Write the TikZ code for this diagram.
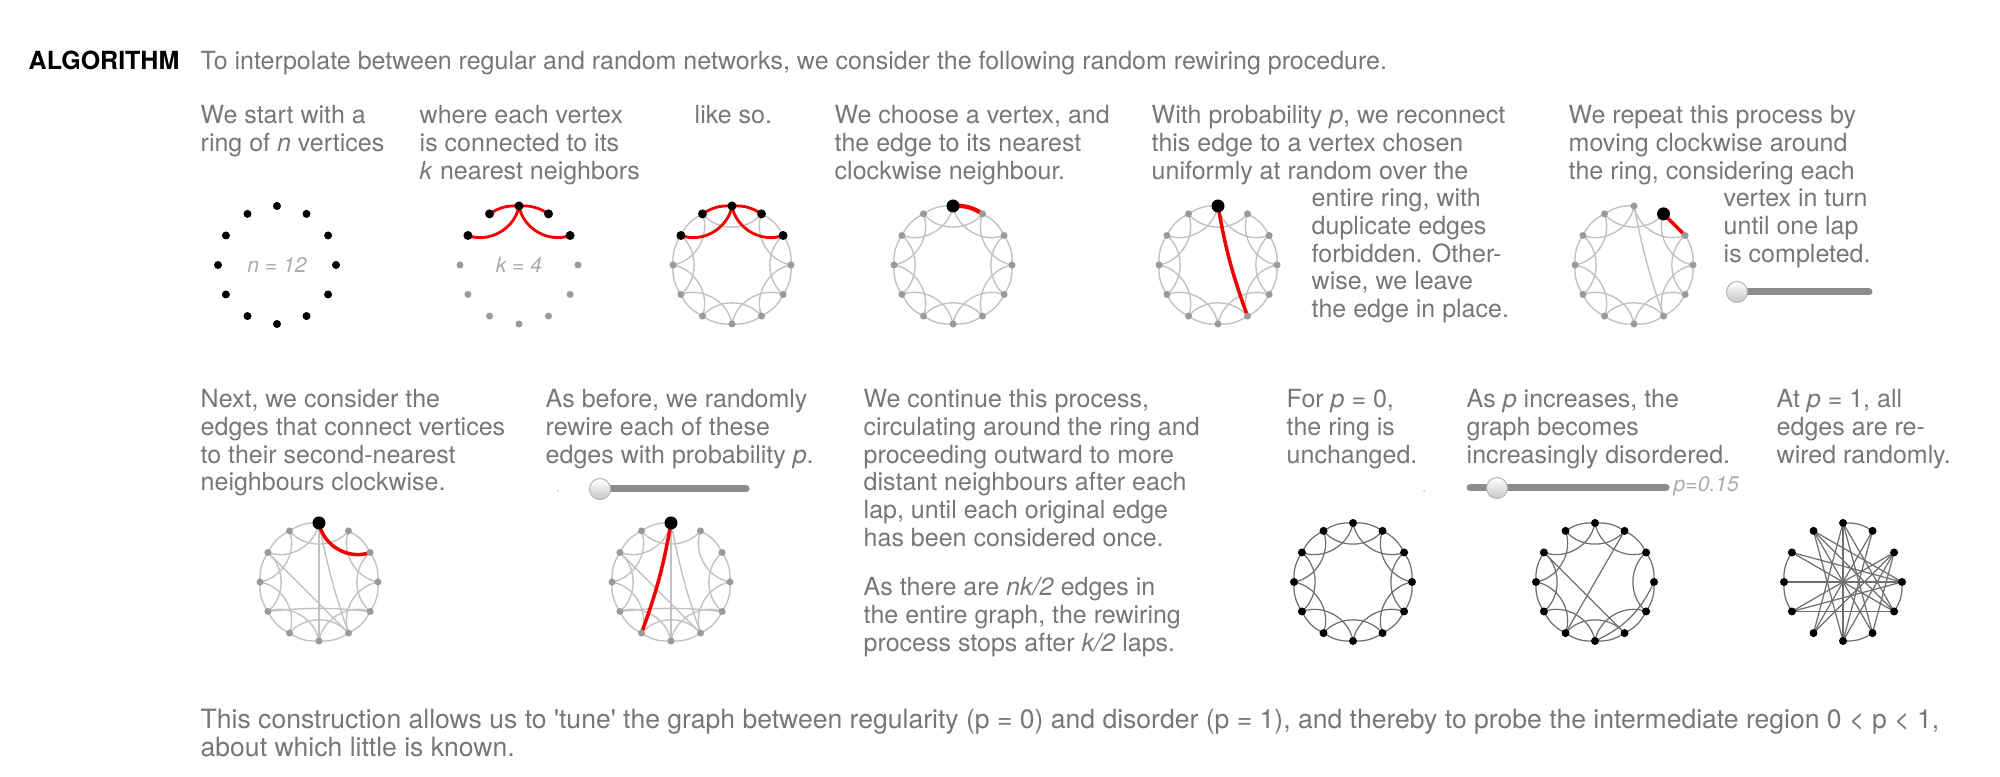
\documentclass[tikz,border=0pt]{standalone}
\usepackage{fontspec}
\setmainfont{TeX Gyre Heros}
\usetikzlibrary{calc}
\definecolor{txtgray}{HTML}{777777}
\definecolor{lblgray}{HTML}{ABABAB}
\definecolor{dotgray}{HTML}{9A9A9A}
\definecolor{edgegray}{HTML}{C2C2C2}
\definecolor{darkedge}{HTML}{6E6E6E}
\definecolor{wirered}{HTML}{F20000}
\tikzset{
	txt/.style={anchor=north west, inner sep=0pt, align=left, text=txtgray, font=\fontsize{7.11}{7.88}\selectfont},
	head/.style={txt, text=black, font=\fontsize{7.11}{7.88}\selectfont\bfseries},
	lbl/.style={inner sep=0pt, text=lblgray, font=\fontsize{6}{7}\selectfont\itshape},
	gedge/.style={draw=edgegray, line width=0.4pt},
	dkedge/.style={draw=darkedge, line width=0.35pt},
	redge/.style={draw=wirered, line width=1pt},
	track/.style={line width=2pt, line cap=round, draw=black!45},
	knob/.style={top color=white, bottom color=black!22, draw=black!28, line width=0.3pt},
}
\newcommand{\nearedges}[3]{\foreach \i in {#3}{\pgfmathtruncatemacro{\nxt}{mod(\i+1,12)}\draw[#2] (#1-\i) to[bend left=18] (#1-\nxt);}}
\newcommand{\faredges}[3]{\foreach \i in {#3}{\pgfmathtruncatemacro{\nxt}{mod(\i+2,12)}\draw[#2] (#1-\i) to[bend right=50] (#1-\nxt);}}
\newcommand{\ringdots}[4]{\foreach \i in {#4}{\fill[#2] (#1-\i) circle[radius=#3];}}
\begin{document}
\begin{tikzpicture}[x=0.01cm, y=0.01cm]
	\useasboundingbox (0,0) rectangle (2000,777);
	\foreach \g/\cx/\cy in {ring/277/512, knn/519/512, likeso/732/512, choose/953/512, rewire/1218/512, lap/1634/512, second/319/195, secondb/671/195, regular/1353/195, smallw/1595/195, random/1843/195}
		\foreach \i in {0,...,11}
			\coordinate (\g-\i) at ($(\cx,\cy)+(90-30*\i:59)$);

	\node[head] (algo) at (28,727.4) {\strut ALGORITHM};
	\node[txt] (intro) at (200,727.4) {\strut To interpolate between regular and random networks, we consider the following random rewiring procedure.};

	\node[txt] (tstart) at (200,673.4) {\strut We start with a\\ ring of \textit{n} vertices};
	\node[txt] (tknn) at (419,673.4) {\strut where each vertex\\ is connected to its\\ \textit{k} nearest neighbors};
	\node[txt] (tlikeso) at (694,673.4) {\strut like so.};
	\node[txt] (tchoose) at (834,673.4) {\strut We choose a vertex, and\\ the edge to its nearest\\ clockwise neighbour.};
	\node[txt] (tprob) at (1151,673.4) {\strut With probability \textit{p}, we reconnect\\ this edge to a vertex chosen\\ uniformly at random over the};
	\node[txt] (tprobb) at (1311,590.3) {\strut entire ring, with\\ duplicate edges\\ forbidden. Other-\\ wise, we leave\\ the edge in place.};
	\node[txt] (trepeat) at (1568,673.4) {\strut We repeat this process by\\ moving clockwise around\\ the ring, considering each};
	\node[txt] (trepeatb) at (1723,590.3) {\strut vertex in turn\\ until one lap\\ is completed.};

	\node[txt] (tnext) at (200,389.4) {\strut Next, we consider the\\ edges that connect vertices\\ to their second-nearest\\ neighbours clockwise.};
	\node[txt] (tbefore) at (545,389.4) {\strut As before, we randomly\\ rewire each of these\\ edges with probability \textit{p}.};
	\node[txt] (tcont) at (863,389.4) {\strut We continue this process,\\ circulating around the ring and\\ proceeding outward to more\\ distant neighbours after each\\ lap, until each original edge\\ has been considered once.};
	\node[txt] (tlaps) at (863,201.4) {\strut As there are \textit{nk/2} edges in\\ the entire graph, the rewiring\\ process stops after \textit{k/2} laps.};
	\node[txt] (tzero) at (1286,389.4) {\strut For \textit{p} = 0,\\ the ring is\\ unchanged.};
	\node[txt] (tmid) at (1466,389.4) {\strut As \textit{p} increases, the\\ graph becomes\\ increasingly disordered.};
	\node[txt] (tone) at (1776,389.4) {\strut At \textit{p} = 1, all\\ edges are re-\\ wired randomly.};

	\node[txt, font=\fontsize{7.55}{7.97}\selectfont] (tsum) at (200,68.6) {\strut This construction allows us to \textquotesingle tune\textquotesingle{} the graph between regularity (p = 0) and disorder (p = 1), and thereby to probe the intermediate region 0 < p < 1,\\ about which little is known.};

	% first row
	\ringdots{ring}{black}{4}{0,...,11}
	\node[lbl] (nlbl) at (277,512) {n = 12};

	\nearedges{knn}{redge, line width=0.8pt}{11,0}
	\faredges{knn}{redge, line width=0.8pt}{10,0}
	\ringdots{knn}{dotgray}{3.5}{3,...,9}
	\ringdots{knn}{black}{4.5}{10,11,0,1,2}
	\node[lbl] (klbl) at (519,512) {k = 4};

	\nearedges{likeso}{gedge}{1,...,10}
	\faredges{likeso}{gedge}{1,...,9,11}
	\nearedges{likeso}{redge, line width=0.8pt}{11,0}
	\faredges{likeso}{redge, line width=0.8pt}{10,0}
	\ringdots{likeso}{dotgray}{3.5}{3,...,9}
	\ringdots{likeso}{black}{4.5}{10,11,0,1,2}

	\nearedges{choose}{gedge}{1,...,11}
	\faredges{choose}{gedge}{0,...,11}
	\nearedges{choose}{redge, line width=1.2pt}{0}
	\ringdots{choose}{dotgray}{3.5}{1,...,11}
	\fill (choose-0) circle[radius=6.5];

	\nearedges{rewire}{gedge}{1,...,11}
	\faredges{rewire}{gedge}{0,...,11}
	\draw[redge] (rewire-0) to[bend right=5] (rewire-5);
	\ringdots{rewire}{dotgray}{3.5}{1,...,11}
	\fill (rewire-0) circle[radius=6.5];

	\nearedges{lap}{gedge}{2,...,11}
	\faredges{lap}{gedge}{0,...,11}
	\draw[gedge] (lap-0) to[bend right=4] (lap-5);
	\draw[redge] (lap-1) -- (lap-2);
	\ringdots{lap}{dotgray}{3.5}{0,2,3,...,11}
	\fill (lap-1) circle[radius=6.5];

	\coordinate (s1a) at (1737,485);
	\coordinate (s1b) at (1869,485);
	\draw[track] (s1a) -- (s1b);
	\shade[knob] (s1a) circle[radius=10.5];

	% second row
	\nearedges{second}{gedge}{1,...,11}
	\faredges{second}{gedge}{1,...,11}
	\draw[gedge] (second-0) to[bend right=4] (second-5);
	\draw[gedge] (second-0) -- (second-6);
	\draw[gedge] (second-10) -- (second-5);
	\draw[gedge] (second-8) to[bend left=6] (second-4);
	\faredges{second}{redge}{0}
	\ringdots{second}{dotgray}{3.5}{1,...,11}
	\fill (second-0) circle[radius=6.5];

	\nearedges{secondb}{gedge}{1,...,11}
	\faredges{secondb}{gedge}{1,...,11}
	\draw[gedge] (secondb-0) to[bend right=4] (secondb-5);
	\draw[gedge] (secondb-0) -- (secondb-6);
	\draw[gedge] (secondb-10) -- (secondb-5);
	\draw[gedge] (secondb-8) to[bend left=6] (secondb-4);
	\draw[redge] (secondb-0) to[bend left=5] (secondb-7);
	\ringdots{secondb}{dotgray}{3.5}{1,...,11}
	\fill (secondb-0) circle[radius=6.5];

	\coordinate (s2a) at (600,288);
	\coordinate (s2b) at (746,288);
	\fill[black!25] (558,286) circle[radius=1];
	\draw[track] (s2a) -- (s2b);
	\shade[knob] (s2a) circle[radius=10.5];

	\nearedges{regular}{dkedge}{0,...,11}
	\faredges{regular}{dkedge}{0,...,11}
	\ringdots{regular}{black}{4}{0,...,11}
	\fill[black!25] (1424,286) circle[radius=1];

	\nearedges{smallw}{dkedge}{0,...,9,11}
	\faredges{smallw}{dkedge}{0,2,4,5,...,11}
	\draw[dkedge] (smallw-10) -- (smallw-5);
	\draw[dkedge] (smallw-1) -- (smallw-7);
	\draw[dkedge] (smallw-3) to[bend left=20] (smallw-6);
	\ringdots{smallw}{black}{4}{0,...,11}

	\coordinate (s3a) at (1470,289);
	\coordinate (s3b) at (1666,289);
	\coordinate (s3k) at (1497,289);
	\draw[track] (s3a) -- (s3b);
	\shade[knob] (s3k) circle[radius=10.5];
	\node[lbl, anchor=base west] (pval) at (1673,285) {p=0.15};

	\nearedges{random}{dkedge}{0,8,9,5,3}
	\foreach \a/\b in {9/3, 0/5, 0/6, 0/4, 11/4, 11/5, 11/3, 10/3, 10/4, 8/3, 8/2, 7/1, 7/2, 6/1, 6/2, 7/0, 8/4, 11/6, 2/5}
		\draw[dkedge] (random-\a) -- (random-\b);
	\ringdots{random}{black}{4}{0,...,11}
\end{tikzpicture}
\end{document}
